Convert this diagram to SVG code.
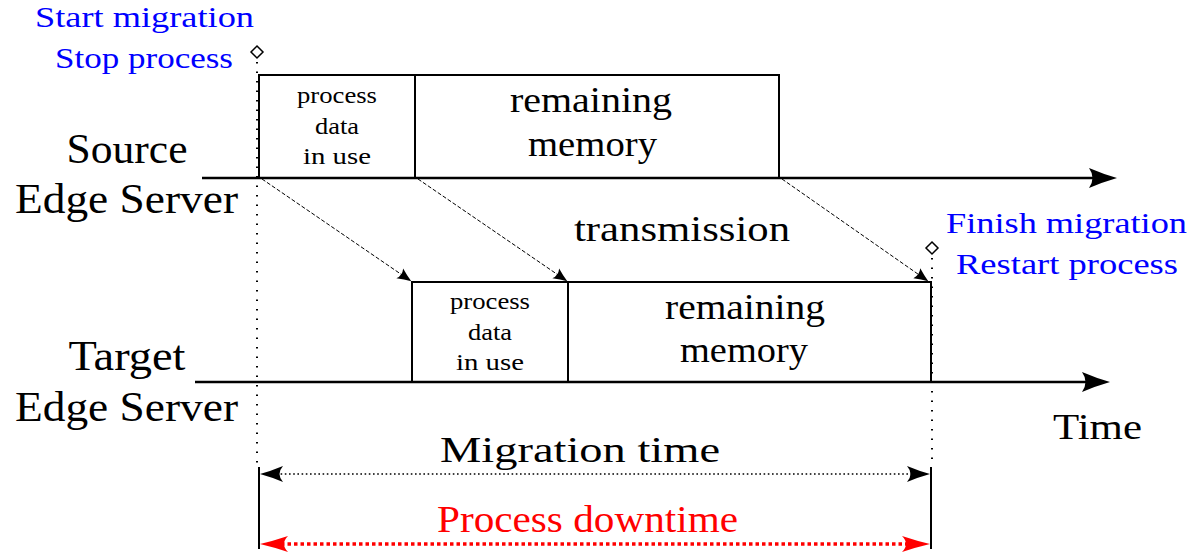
<svg xmlns="http://www.w3.org/2000/svg" width="1192" height="553" viewBox="0 0 1192 553">
<style>
  text { font-family: "Liberation Serif", serif; fill: #000; text-anchor: middle; }
  .big { font-size: 42px; }
  .mid { font-size: 36px; }
  .small { font-size: 23px; }
  .blue { fill: #0000ff; font-size: 30px; }
  .red { fill: #ff0000; font-size: 38px; }
  .box { fill: none; stroke: #000; stroke-width: 2; }
  .axis { stroke: #000; stroke-width: 2.5; fill: none; }
  .vdot { stroke: #000; stroke-width: 2; stroke-dasharray: 1.5 8; fill: none; }
  .conn { stroke: #000; stroke-width: 1; stroke-dasharray: 4 2; fill: none; }
  .bar { stroke: #000; stroke-width: 2; fill: none; }
  .mdot { stroke: #000; stroke-width: 1.6; stroke-dasharray: 1.6 2.6; fill: none; }
  .rdot { stroke: #ff0000; stroke-width: 3.5; stroke-dasharray: 3.5 3; fill: none; }
  .diam { fill: #fff; stroke: #000; stroke-width: 1.5; }
</style>
<defs>
  <marker id="axhead" viewBox="-30 -12 32 24" refX="-10" refY="0" markerWidth="32" markerHeight="24" markerUnits="userSpaceOnUse" orient="auto">
    <path d="M0,0 Q-14,-4 -28,-10 Q-21,0 -28,10 Q-14,4 0,0 Z" fill="#000"/>
  </marker>
  <marker id="chead" viewBox="-16 -8 18 16" refX="-4" refY="0" markerWidth="18" markerHeight="16" markerUnits="userSpaceOnUse" orient="auto">
    <path d="M0,0 Q-7,-2.5 -14,-6 Q-10.5,0 -14,6 Q-7,2.5 0,0 Z" fill="#000"/>
  </marker>
  <marker id="mhead" viewBox="-26 -10 28 20" refX="-8" refY="0" markerWidth="28" markerHeight="20" markerUnits="userSpaceOnUse" orient="auto-start-reverse">
    <path d="M0,0 Q-11,-3 -23,-8 Q-16,0 -23,8 Q-11,3 0,0 Z" fill="#000"/>
  </marker>
  <marker id="rhead" viewBox="-30 -10 32 20" refX="-8" refY="0" markerWidth="32" markerHeight="20" markerUnits="userSpaceOnUse" orient="auto-start-reverse">
    <path d="M0,0 Q-13,-3 -28,-8 Q-20,0 -28,8 Q-13,3 0,0 Z" fill="#ff0000"/>
  </marker>
</defs>
<rect width="1192" height="553" fill="#fff"/>

<g id="labels">
  <text class="blue" x="144.5" y="27" textLength="219" lengthAdjust="spacingAndGlyphs">Start migration</text>
  <text class="blue" x="144" y="68" textLength="178" lengthAdjust="spacingAndGlyphs">Stop process</text>
  <text class="big" x="127" y="163" textLength="121" lengthAdjust="spacingAndGlyphs">Source</text>
  <text class="big" x="126.5" y="213" textLength="223" lengthAdjust="spacingAndGlyphs">Edge Server</text>
  <text class="big" x="127" y="370" textLength="117" lengthAdjust="spacingAndGlyphs">Target</text>
  <text class="big" x="126.5" y="421" textLength="223" lengthAdjust="spacingAndGlyphs">Edge Server</text>
  <text class="mid" x="682" y="241" textLength="216" lengthAdjust="spacingAndGlyphs">transmission</text>
  <text class="blue" x="1066.5" y="233" textLength="241" lengthAdjust="spacingAndGlyphs">Finish migration</text>
  <text class="blue" x="1067" y="274" textLength="222" lengthAdjust="spacingAndGlyphs">Restart process</text>
  <text class="mid" x="1097.5" y="439" textLength="89" lengthAdjust="spacingAndGlyphs">Time</text>
  <text class="mid" x="580" y="462" textLength="280" lengthAdjust="spacingAndGlyphs">Migration time</text>
  <text class="red" x="587.5" y="532" textLength="301" lengthAdjust="spacingAndGlyphs">Process downtime</text>
</g>

<g id="source-axis">
  <line class="axis" x1="202" y1="178" x2="1107" y2="178" marker-end="url(#axhead)"/>
</g>
<g id="target-axis">
  <line class="axis" x1="195" y1="382" x2="1100" y2="382" marker-end="url(#axhead)"/>
</g>

<g id="src-process-data">
  <rect class="box" x="259" y="75" width="156" height="103"/>
  <text class="small" x="337" y="103" textLength="80" lengthAdjust="spacingAndGlyphs">process</text>
  <text class="small" x="337" y="134" textLength="44" lengthAdjust="spacingAndGlyphs">data</text>
  <text class="small" x="337" y="164" textLength="68" lengthAdjust="spacingAndGlyphs">in use</text>
</g>
<g id="src-remaining">
  <rect class="box" x="415" y="75" width="364" height="103"/>
  <text class="mid" x="591" y="112" textLength="162" lengthAdjust="spacingAndGlyphs">remaining</text>
  <text class="mid" x="592.5" y="156" textLength="129" lengthAdjust="spacingAndGlyphs">memory</text>
</g>
<g id="tgt-process-data">
  <rect class="box" x="412" y="282" width="156" height="100"/>
  <text class="small" x="490" y="309" textLength="80" lengthAdjust="spacingAndGlyphs">process</text>
  <text class="small" x="490" y="340" textLength="44" lengthAdjust="spacingAndGlyphs">data</text>
  <text class="small" x="490" y="370" textLength="68" lengthAdjust="spacingAndGlyphs">in use</text>
</g>
<g id="tgt-remaining">
  <rect class="box" x="568" y="282" width="363" height="100"/>
  <text class="mid" x="745" y="319" textLength="160" lengthAdjust="spacingAndGlyphs">remaining</text>
  <text class="mid" x="744" y="362" textLength="128" lengthAdjust="spacingAndGlyphs">memory</text>
</g>

<g id="markers">
  <line class="vdot" x1="257" y1="62" x2="257" y2="466"/>
  <line class="vdot" x1="932" y1="258" x2="932" y2="466"/>
  <path class="diam" d="M257,46 L263,52 L257,58 L251,52 Z"/>
  <path class="diam" d="M932,242 L938,248 L932,254 L926,248 Z"/>
</g>

<g id="connectors">
  <line class="conn" x1="262" y1="179" x2="408" y2="279" marker-end="url(#chead)"/>
  <line class="conn" x1="418" y1="179" x2="564" y2="279" marker-end="url(#chead)"/>
  <line class="conn" x1="782" y1="179" x2="925" y2="279" marker-end="url(#chead)"/>
</g>

<g id="migration-time">
  <line class="bar" x1="259" y1="467" x2="259" y2="549"/>
  <line class="bar" x1="931" y1="467" x2="931" y2="549"/>
  <line class="mdot" x1="268" y1="474" x2="922" y2="474" marker-start="url(#mhead)" marker-end="url(#mhead)"/>
</g>
<g id="process-downtime">
  <line class="rdot" x1="268" y1="544" x2="922" y2="544" marker-start="url(#rhead)" marker-end="url(#rhead)"/>
</g>
</svg>
